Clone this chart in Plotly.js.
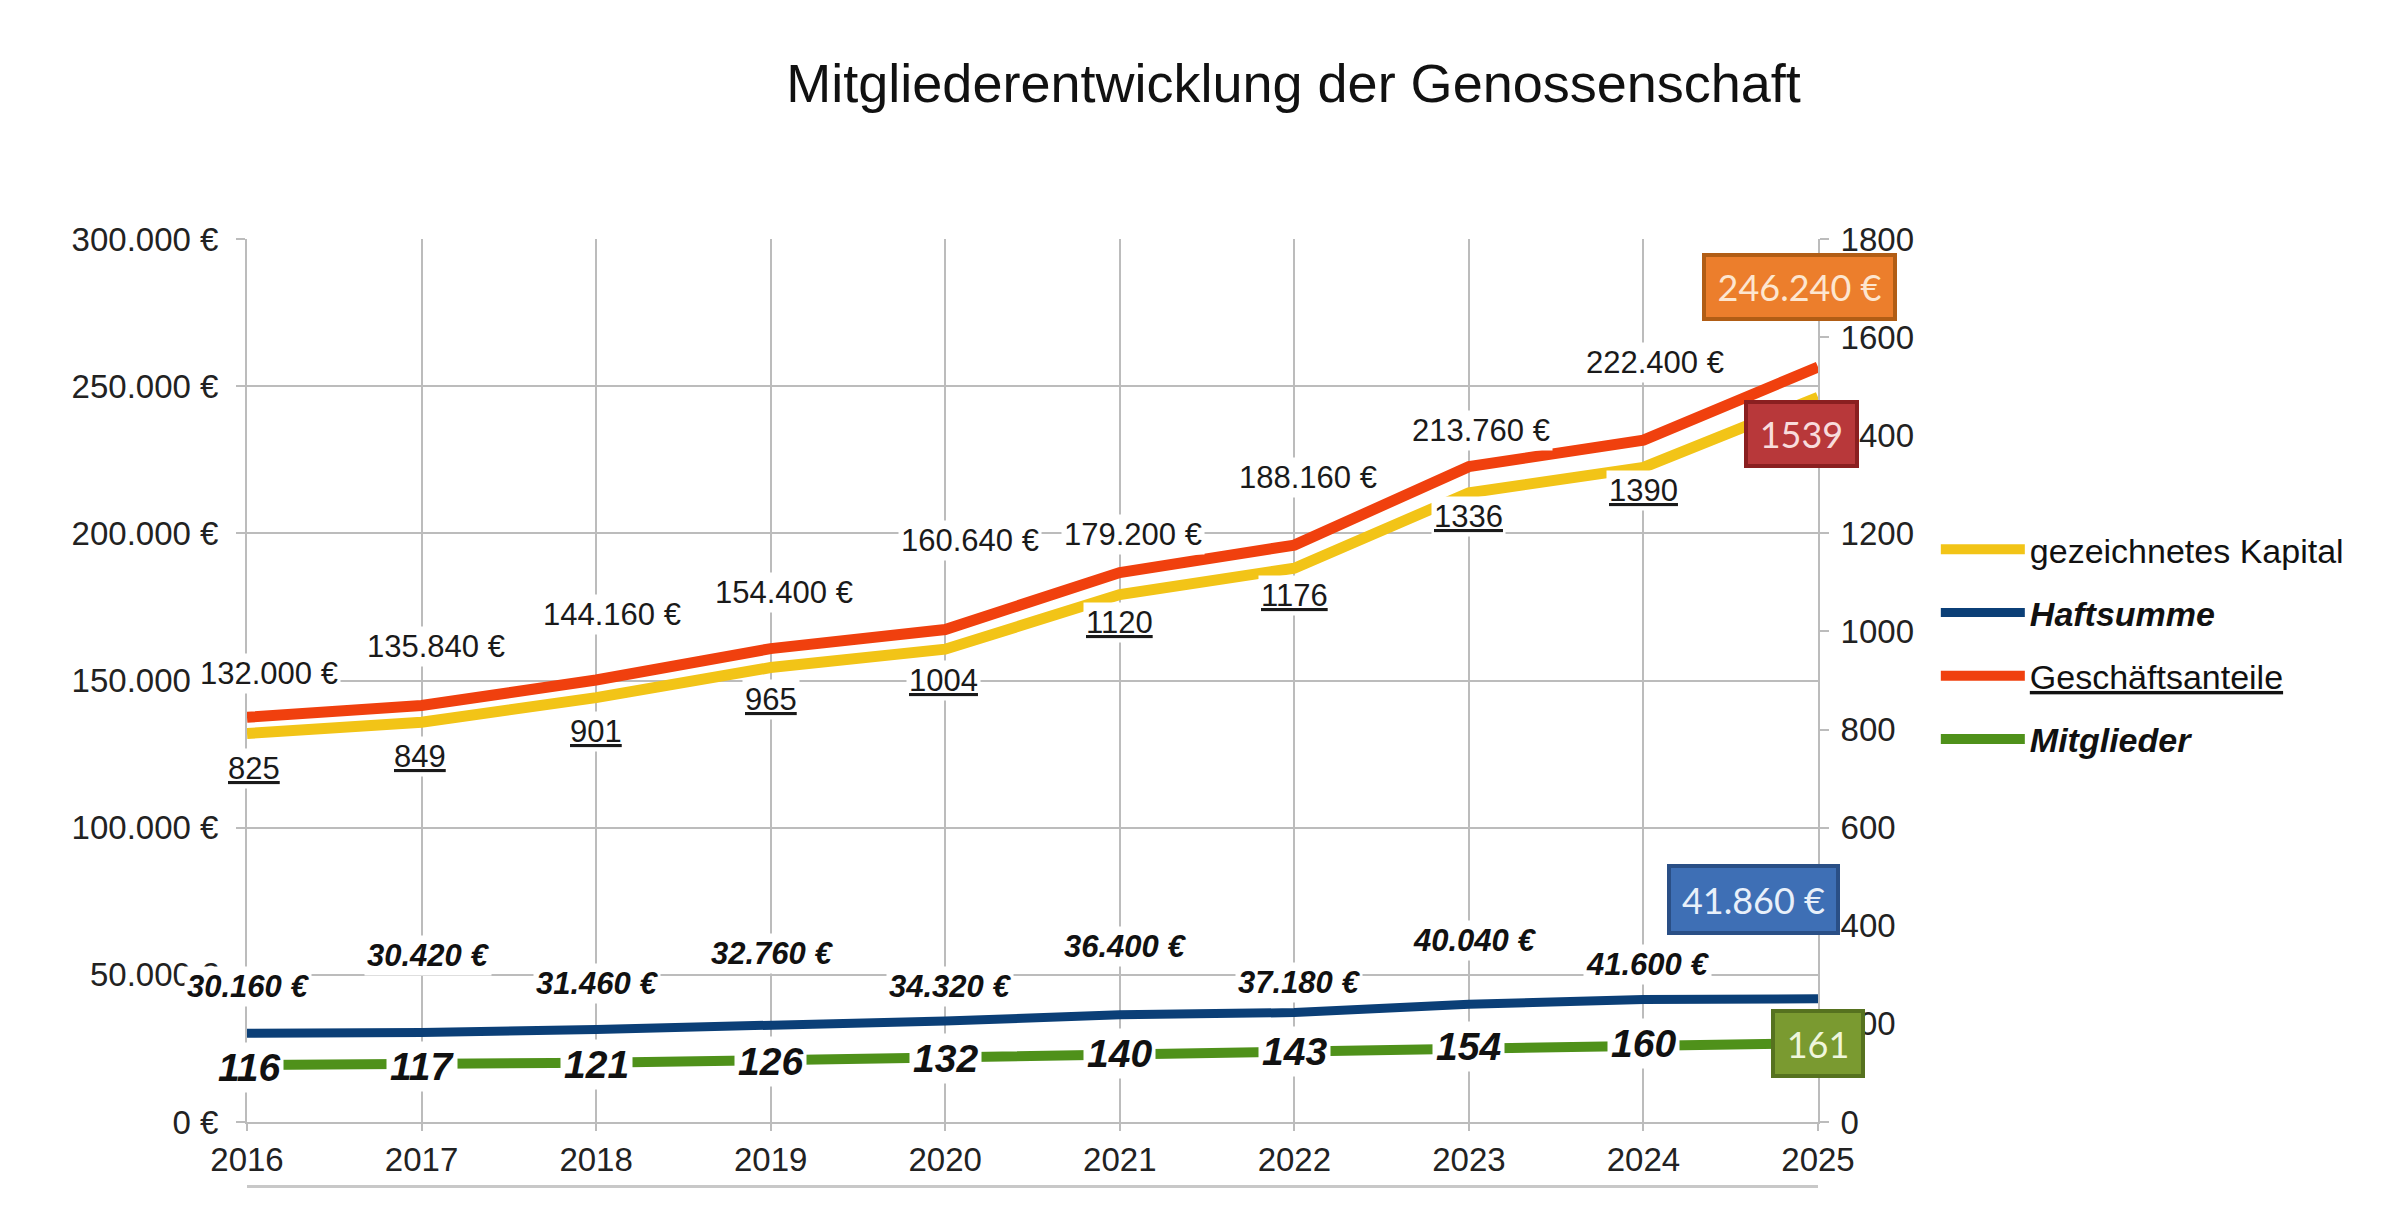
<!DOCTYPE html>
<html>
<head>
<meta charset="utf-8">
<script src="https://cdn.plot.ly/plotly-3.0.1.min.js"></script>
<style>html,body{margin:0;padding:0;background:#fff;}#chart{width:2400px;height:1228px;}</style>
</head>
<body>
<div id="chart"></div>
<script>
// ---- data ----
var years = [2016, 2017, 2018, 2019, 2020, 2021, 2022, 2023, 2024, 2025];
var gezeichnetesKapital = [132000, 135840, 144160, 154400, 160640, 179200, 188160, 213760, 222400, 246240];
var haftsumme = [30160, 30420, 31460, 32760, 34320, 36400, 37180, 40040, 41600, 41860];
var geschaeftsanteile = [825, 849, 901, 965, 1004, 1120, 1176, 1336, 1390, 1539];
var mitglieder = [116, 117, 121, 126, 132, 140, 143, 154, 160, 161];
var seriesNames = ['gezeichnetes Kapital', 'Haftsumme', 'Geschäftsanteile', 'Mitglieder'];

// ---- label placement (pixel shifts, layout only) ----
var kapitalShift = [[22,60],[14,76],[16,83],[13,75],[25,109],[13,60],[14,91],[12,62],[12,105],[-19,110]];
var haftShift = [[1,47],[6,77],[1,46],[1,72],[5,34],[5,68],[5,30],[6,64],[4,35],[-65,99]];
var anteileShift = [[7,-51],[-2,-51],[0,-51],[0,-51],[-2,-51],[0,-50],[0,-50],[0,-50],[0,-50],[-17,-67]];
var mitgliederShift = [[2,-2],[0,-2],[0,-2],[0,-1],[0,-1],[0,0],[0,0],[0,0],[0,0],[0,0]];

function fmtEuro(v) {
  return String(v).replace(/\B(?=(\d{3})+(?!\d))/g, '.') + ' €';
}

var COL_YEL = '#F2C417', COL_BLUE = '#0B3F77', COL_RED = '#F0400E', COL_GREEN = '#4F911A';
var FONT = 'Liberation Sans, Arial, sans-serif';

var traces = [
  {x: years, y: gezeichnetesKapital, name: seriesNames[0], type: 'scatter', mode: 'lines', yaxis: 'y',
   line: {color: COL_YEL, width: 11}, legendgroup: 'a'},
  {x: years, y: haftsumme, name: '<b><i>' + seriesNames[1] + '</i></b>', type: 'scatter', mode: 'lines', yaxis: 'y',
   line: {color: COL_BLUE, width: 9}, legendgroup: 'b'},
  {x: years, y: geschaeftsanteile, name: '<u>' + seriesNames[2] + '</u>', type: 'scatter', mode: 'lines', yaxis: 'y2',
   line: {color: COL_RED, width: 11}, legendgroup: 'c'},
  {x: years, y: mitglieder, name: '<b><i>' + seriesNames[3] + '</i></b>', type: 'scatter', mode: 'lines', yaxis: 'y2',
   line: {color: COL_GREEN, width: 10}, legendgroup: 'd'}
];

var ann = [];
var last = years.length - 1;
years.forEach(function (yr, i) {
  if (i < last) {
    ann.push({x: yr, y: gezeichnetesKapital[i], xref: 'x', yref: 'y', text: fmtEuro(gezeichnetesKapital[i]),
      showarrow: false, xshift: kapitalShift[i][0], yshift: kapitalShift[i][1], bgcolor: '#ffffff', borderpad: 2,
      font: {family: FONT, size: 31, color: '#1a1a1a'}});
    ann.push({x: yr, y: haftsumme[i], xref: 'x', yref: 'y', text: '<b><i>' + fmtEuro(haftsumme[i]) + '</i></b>',
      showarrow: false, xshift: haftShift[i][0], yshift: haftShift[i][1], bgcolor: '#ffffff', borderpad: 2,
      font: {family: FONT, size: 31, color: '#111'}});
    ann.push({x: yr, y: geschaeftsanteile[i], xref: 'x', yref: 'y2', text: '<u>' + geschaeftsanteile[i] + '</u>',
      showarrow: false, xshift: anteileShift[i][0], yshift: anteileShift[i][1], bgcolor: '#ffffff', borderpad: 2,
      font: {family: FONT, size: 31, color: '#1a1a1a'}});
    ann.push({x: yr, y: mitglieder[i], xref: 'x', yref: 'y2', text: '<b><i>' + mitglieder[i] + '</i></b>',
      showarrow: false, xshift: mitgliederShift[i][0], yshift: mitgliederShift[i][1], bgcolor: '#ffffff', borderpad: 3,
      font: {family: FONT, size: 39, color: '#111'}});
  }
});
// final value boxes
var BOXFONT = 'Lato, Open Sans, sans-serif';
ann.push({x: years[last], y: gezeichnetesKapital[last], xref: 'x', yref: 'y', text: fmtEuro(gezeichnetesKapital[last]),
  showarrow: false, xshift: kapitalShift[last][0], yshift: kapitalShift[last][1], bgcolor: '#EC7E2C', bordercolor: '#B15D15',
  borderwidth: 4, borderpad: 0, width: 187, height: 60, font: {family: BOXFONT, size: 36, color: '#FDE6D0'}});
ann.push({x: years[last], y: geschaeftsanteile[last], xref: 'x', yref: 'y2', text: String(geschaeftsanteile[last]),
  showarrow: false, xshift: anteileShift[last][0], yshift: anteileShift[last][1], bgcolor: '#B8383A', bordercolor: '#8A1F20',
  borderwidth: 4, borderpad: 0, width: 107, height: 60, font: {family: BOXFONT, size: 36, color: '#F8DCDC'}});
ann.push({x: years[last], y: haftsumme[last], xref: 'x', yref: 'y', text: fmtEuro(haftsumme[last]),
  showarrow: false, xshift: haftShift[last][0], yshift: haftShift[last][1], bgcolor: '#3E6FB5', bordercolor: '#2A4F86',
  borderwidth: 4, borderpad: 0, width: 165, height: 63, font: {family: BOXFONT, size: 36, color: '#E8F0FA'}});
ann.push({x: years[last], y: mitglieder[last], xref: 'x', yref: 'y2', text: String(mitglieder[last]),
  showarrow: false, xshift: mitgliederShift[last][0], yshift: mitgliederShift[last][1], bgcolor: '#7A9A30', bordercolor: '#56721F',
  borderwidth: 4, borderpad: 0, width: 86, height: 61, font: {family: BOXFONT, size: 36, color: '#EFF6DC'}});

var GRID = '#bcbcbc';
var layout = {
  width: 2400, height: 1228,
  paper_bgcolor: '#ffffff', plot_bgcolor: '#ffffff',
  separators: ',.',
  margin: {l: 247, r: 582, t: 239, b: 106, pad: 0},
  title: {text: 'Mitgliederentwicklung der Genossenschaft', x: 0.539, xanchor: 'center', y: 0.932, yanchor: 'middle',
    font: {family: FONT, size: 54, color: '#111'}},
  xaxis: {range: [2016, 2025], tickvals: years, ticktext: years.map(String), showgrid: true, gridcolor: GRID, gridwidth: 2,
    ticks: 'outside', ticklen: 7, tickcolor: GRID, tickwidth: 2, zeroline: false, showline: true, linecolor: GRID, linewidth: 2,
    mirror: false, ticklabelstandoff: 0, tickfont: {family: FONT, size: 33, color: '#222'}},
  yaxis: {range: [0, 300000], dtick: 50000, tickformat: ',d', ticksuffix: ' €', showgrid: true, gridcolor: GRID, gridwidth: 2,
    ticks: 'outside', ticklen: 9, tickcolor: GRID, tickwidth: 2, zeroline: false, showline: true, linecolor: GRID, linewidth: 2,
    ticklabelstandoff: 11, tickfont: {family: FONT, size: 33, color: '#222'}},
  yaxis2: {range: [0, 1800], dtick: 200, tickformat: 'd', overlaying: 'y', side: 'right', showgrid: false,
    ticks: 'outside', ticklen: 9, tickcolor: GRID, tickwidth: 2, zeroline: false, showline: true, linecolor: GRID, linewidth: 2,
    ticklabelstandoff: 5, tickfont: {family: FONT, size: 33, color: '#222'}},
  showlegend: true,
  legend: {x: 1.075, xanchor: 'left', y: 0.681, yanchor: 'top', bgcolor: 'rgba(0,0,0,0)', borderwidth: 0,
    traceorder: 'grouped', tracegroupgap: 16, itemwidth: 84, font: {family: FONT, size: 34, color: '#111'}},
  shapes: [
    {type: 'line', xref: 'paper', yref: 'paper', x0: 0, x1: 1, y0: -0.073, y1: -0.073, line: {color: '#c8c8c8', width: 3}}
  ],
  annotations: ann
};

Plotly.newPlot('chart', traces, layout, {displayModeBar: false, staticPlot: true});
</script>
</body>
</html>
